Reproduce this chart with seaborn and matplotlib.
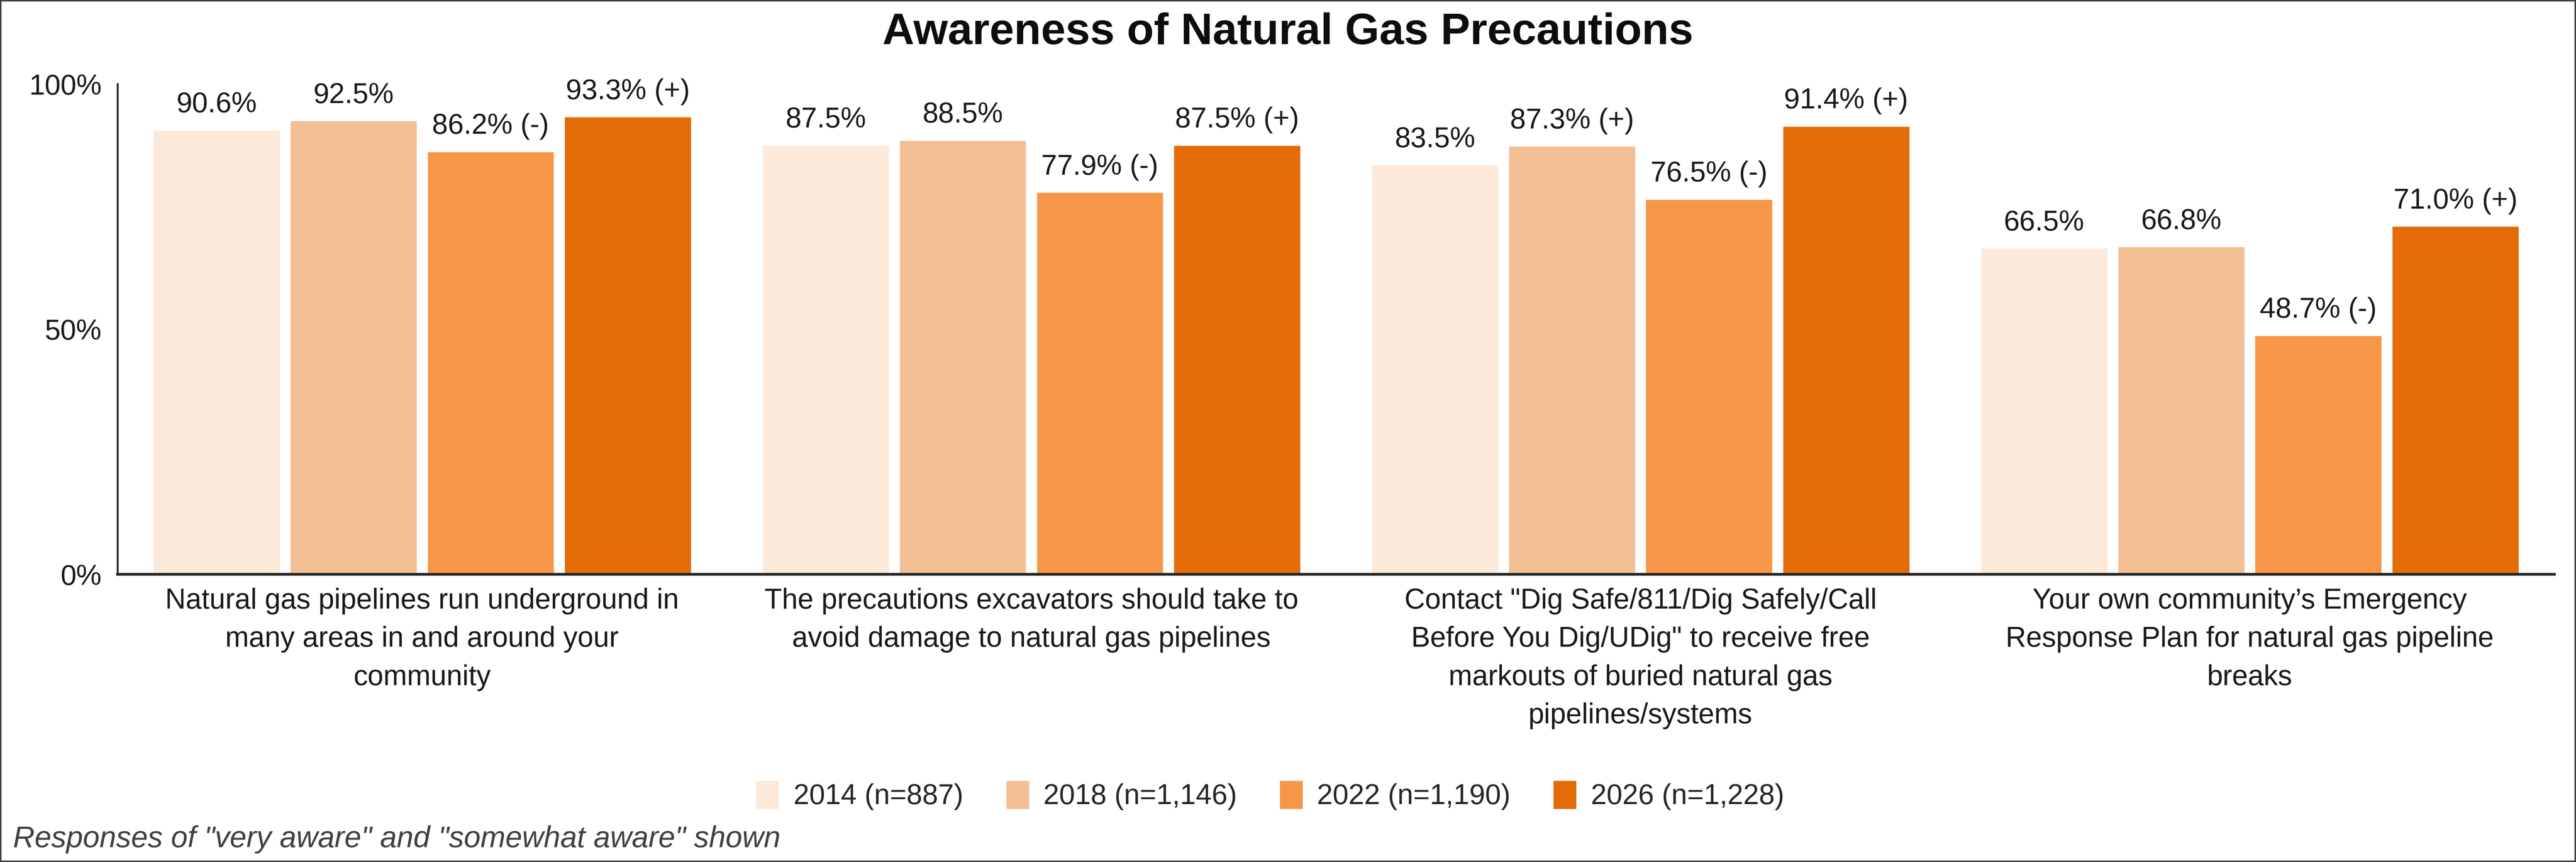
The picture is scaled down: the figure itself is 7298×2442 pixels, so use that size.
import pandas as pd
import matplotlib.pyplot as plt
import matplotlib.patches as mpatches
import seaborn as sns

# -----------------------------
# Data
# -----------------------------
items = [
    "Natural gas pipelines run underground in\nmany areas in and around your\ncommunity",
    "The precautions excavators should take to\navoid damage to natural gas pipelines",
    "Contact \"Dig Safe/811/Dig Safely/Call\nBefore You Dig/UDig\" to receive free\nmarkouts of buried natural gas\npipelines/systems",
    "Your own community\u2019s Emergency\nResponse Plan for natural gas pipeline\nbreaks",
]
years = ["2014 (n=887)", "2018 (n=1,146)", "2022 (n=1,190)", "2026 (n=1,228)"]

aware_2014 = [90.6, 87.5, 83.5, 66.5]
aware_2018 = [92.5, 88.5, 87.3, 66.8]
aware_2022 = [86.2, 77.9, 76.5, 48.7]
aware_2026 = [93.3, 87.5, 91.4, 71.0]

sig_2014 = ["", "", "", ""]
sig_2018 = ["", "", "(+)", ""]
sig_2022 = ["(-)", "(-)", "(-)", "(-)"]
sig_2026 = ["(+)", "(+)", "(+)", "(+)"]

colors = ["#FCE9DA", "#F3C096", "#F79646", "#E36C09"]

series = [aware_2014, aware_2018, aware_2022, aware_2026]
sigs = [sig_2014, sig_2018, sig_2022, sig_2026]

rows = []
for yr, vals in zip(years, series):
    for it, v in zip(items, vals):
        rows.append({"Item": it, "Year": yr, "Pct": v})
df = pd.DataFrame(rows)

# -----------------------------
# Style
# -----------------------------
sns.set_style("white")
plt.rcParams["font.family"] = ["Liberation Sans", "DejaVu Sans"]
FS = 58
AX_COLOR = "#262626"

fig = plt.figure(figsize=(72.98, 24.42), dpi=100)
ax = fig.add_axes([0.0456, 0.3337, 0.946, 0.5688])

sns.barplot(data=df, x="Item", y="Pct", hue="Year", hue_order=years,
            order=items, palette=colors, width=0.9, gap=0.076,
            saturation=1, ax=ax, legend=True)

# value labels
for cont, vals, sg in zip(ax.containers, series, sigs):
    labels = [f"{v:.1f}%" + (f" {s}" if s else "") for v, s in zip(vals, sg)]
    ax.bar_label(cont, labels=labels, padding=24, fontsize=FS, color="#1a1a1a")

# axes
ax.set_xlim(-0.5, 3.5)
ax.set_ylim(0, 100)
ax.set_yticks([0, 50, 100])
ax.set_yticklabels(["0%", "50%", "100%"])
ax.set_xlabel("")
ax.set_ylabel("")
ax.tick_params(axis="y", length=0, pad=32, labelsize=FS, labelcolor="#1a1a1a")
ax.tick_params(axis="x", which="major", length=0, pad=27, labelsize=FS,
               labelcolor="#1a1a1a")
ax.set_xticks([-0.5, 0.5, 1.5, 2.5, 3.5], minor=True)
ax.tick_params(axis="x", which="minor", length=55, width=3.5, color=AX_COLOR,
               direction="out")
for lbl in ax.get_xticklabels():
    lbl.set_linespacing(1.55)

sns.despine(ax=ax, top=True, right=True)
ax.spines["bottom"].set_color(AX_COLOR)
ax.spines["bottom"].set_linewidth(5.5)
ax.spines["left"].set_color(AX_COLOR)
ax.spines["left"].set_linewidth(3.8)

# legend
handles, labels = ax.get_legend_handles_labels()
ax.get_legend().remove()
fig.legend(handles, labels, loc="center", bbox_to_anchor=(0.493, 0.0774),
           ncol=4, frameon=False, fontsize=FS, handlelength=0.82,
           handleheight=1.17, handletextpad=0.5, columnspacing=1.5)

# title & footnote
fig.text(0.5, 1 - 93 / 2442, "Awareness of Natural Gas Precautions",
         ha="center", va="center", fontsize=90, fontweight="bold", color="#0d0d0d")
fig.text(37 / 7298, 1 - 2378 / 2442,
         "Responses of \"very aware\" and \"somewhat aware\" shown",
         ha="left", va="center", fontsize=61, style="italic", color="#404040")

# outer frame
fig.patches.append(mpatches.Rectangle((0, 0), 1, 1, transform=fig.transFigure,
                                      fill=False, edgecolor="#404040", lw=6))

fig.savefig("out.png", dpi=100, facecolor="white")
